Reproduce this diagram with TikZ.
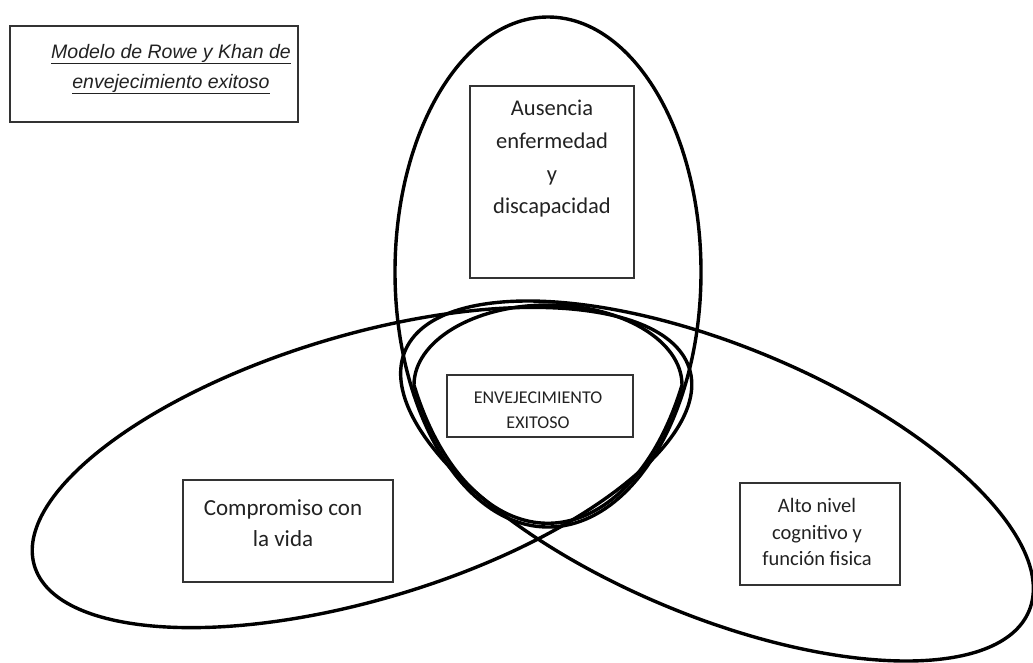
\documentclass[tikz,border=0pt]{standalone}
\usepackage{fontspec}
\setmainfont{Carlito}
\newfontfamily\titlefont{Liberation Sans}
\definecolor{boxgray}{HTML}{333333}
\definecolor{textgray}{HTML}{222222}

\begin{document}
\begin{tikzpicture}[x=1pt,y=-1pt,
    ring/.style={draw=black,line width=3.4pt},
    cellbox/.style={draw=boxgray,line width=1.4pt,inner sep=0pt},
    celltext/.style={text=textgray,align=center,inner sep=0pt}]
      \useasboundingbox[fill=white] (0,0) rectangle (1033,662);
      % the three circles and the overlap
      \draw[ring] (548,272) ellipse [x radius=153, y radius=255];
      \draw[ring,rotate around={16.7:(362,467.5)}] (362,467.5) ellipse [x radius=342, y radius=132];
      \draw[ring,rotate around={-22.6:(717,481)}] (717,481) ellipse [x radius=338, y radius=135];
      \draw[ring] (414,385) arc[start angle=180, end angle=360, x radius=134, y radius=80]
                  arc[start angle=26.7, end angle=153.3, x radius=150, y radius=251] -- cycle;
      % boxes
      \node[cellbox,minimum width=288pt,minimum height=96pt] at (154,74)  (titlebox) {};
      \node[cellbox,minimum width=164pt,minimum height=192pt] at (552,182) (ausbox) {};
      \node[cellbox,minimum width=186pt,minimum height=62pt] at (540,406)  (envbox) {};
      \node[cellbox,minimum width=210pt,minimum height=102pt] at (288,531) (combox) {};
      \node[cellbox,minimum width=160pt,minimum height=102pt] at (820,534) (altbox) {};
      % texts
      \node[celltext,font=\titlefont\itshape\fontsize{19.5}{30}\selectfont] at (171,69) (title)
            {\underline{Modelo de Rowe y Khan de}\\\underline{envejecimiento exitoso}};
      \node[celltext,font=\fontsize{22.5}{32.7}\selectfont] at (552,159) (aus)
            {Ausencia\\enfermedad\\y\\discapacidad};
      \node[celltext,font=\fontsize{18}{25}\selectfont] at (538,410) (env)
            {ENVEJECIMIENTO\\EXITOSO};
      \node[celltext,font=\fontsize{23}{31}\selectfont] at (283,523) (com)
            {Compromiso con\\la vida};
      \node[celltext,font=\fontsize{20.5}{26.5}\selectfont] at (817,532) (alt)
            {Alto nivel\\cognitivo y\\función fisica};
    \end{tikzpicture}
\end{document}
